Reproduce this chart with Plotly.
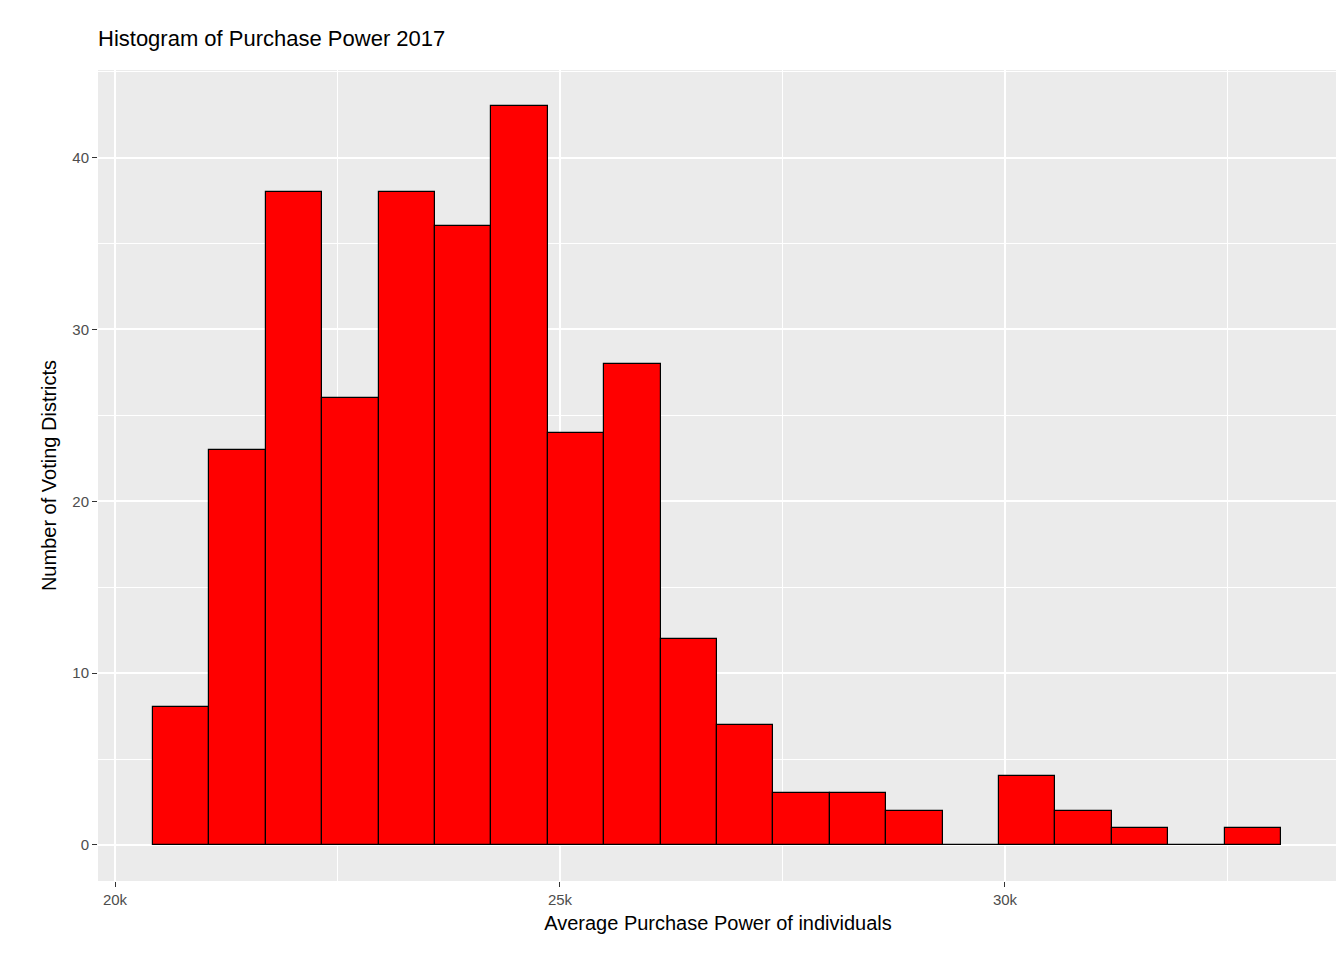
import numpy as np
import plotly.graph_objects as go

# histogram counts per bin
counts = [8, 23, 38, 26, 38, 36, 43, 24, 28, 12, 7, 3, 3, 2, 0, 4, 2, 1, 0, 1]
bin_start = 20427
bin_width = 633.7

x_ticks = [20000, 25000, 30000]
y_ticks = [0, 10, 20, 30, 40]

centers = bin_start + bin_width * (np.arange(len(counts)) + 0.5)

fig = go.Figure(go.Bar(
    x=centers, y=counts, width=bin_width,
    marker=dict(color="#FF0000", line=dict(color="black", width=1.2)),
))

axis_common = dict(
    showgrid=True, gridcolor="white", gridwidth=1.6,
    minor=dict(showgrid=True, gridcolor="white", gridwidth=0.7),
    zeroline=False, ticks="outside", ticklen=5, tickcolor="#333333",
    tickfont=dict(size=15, color="#4D4D4D"),
    title_font=dict(size=20, color="black"),
)

fig.update_layout(
    width=1344, height=960,
    margin=dict(l=90, r=14, t=62, b=87),
    paper_bgcolor="white", plot_bgcolor="#EBEBEB",
    font=dict(family="Liberation Sans, Arial, sans-serif"),
    title=dict(text="Histogram of Purchase Power 2017", x=90 / 1344, xanchor="left",
               y=1 - 30 / 960, yanchor="middle", font=dict(size=22, color="black")),
    xaxis=dict(range=[19809, 33742], tickvals=x_ticks,
               minor=dict(tickvals=[22500, 27500, 32500], showgrid=True,
                          gridcolor="white", gridwidth=0.7),
               title=dict(text="Average Purchase Power of individuals", standoff=8),
               **{k: v for k, v in axis_common.items() if k != "minor"}),
    yaxis=dict(range=[-2.1, 45.1], tickvals=y_ticks,
               minor=dict(tickvals=[5, 15, 25, 35, 45], showgrid=True,
                          gridcolor="white", gridwidth=0.7),
               title=dict(text="Number of Voting Districts", standoff=10),
               **{k: v for k, v in axis_common.items() if k != "minor"}),
    showlegend=False,
    bargap=0,
)

fig.write_html("out.html")
